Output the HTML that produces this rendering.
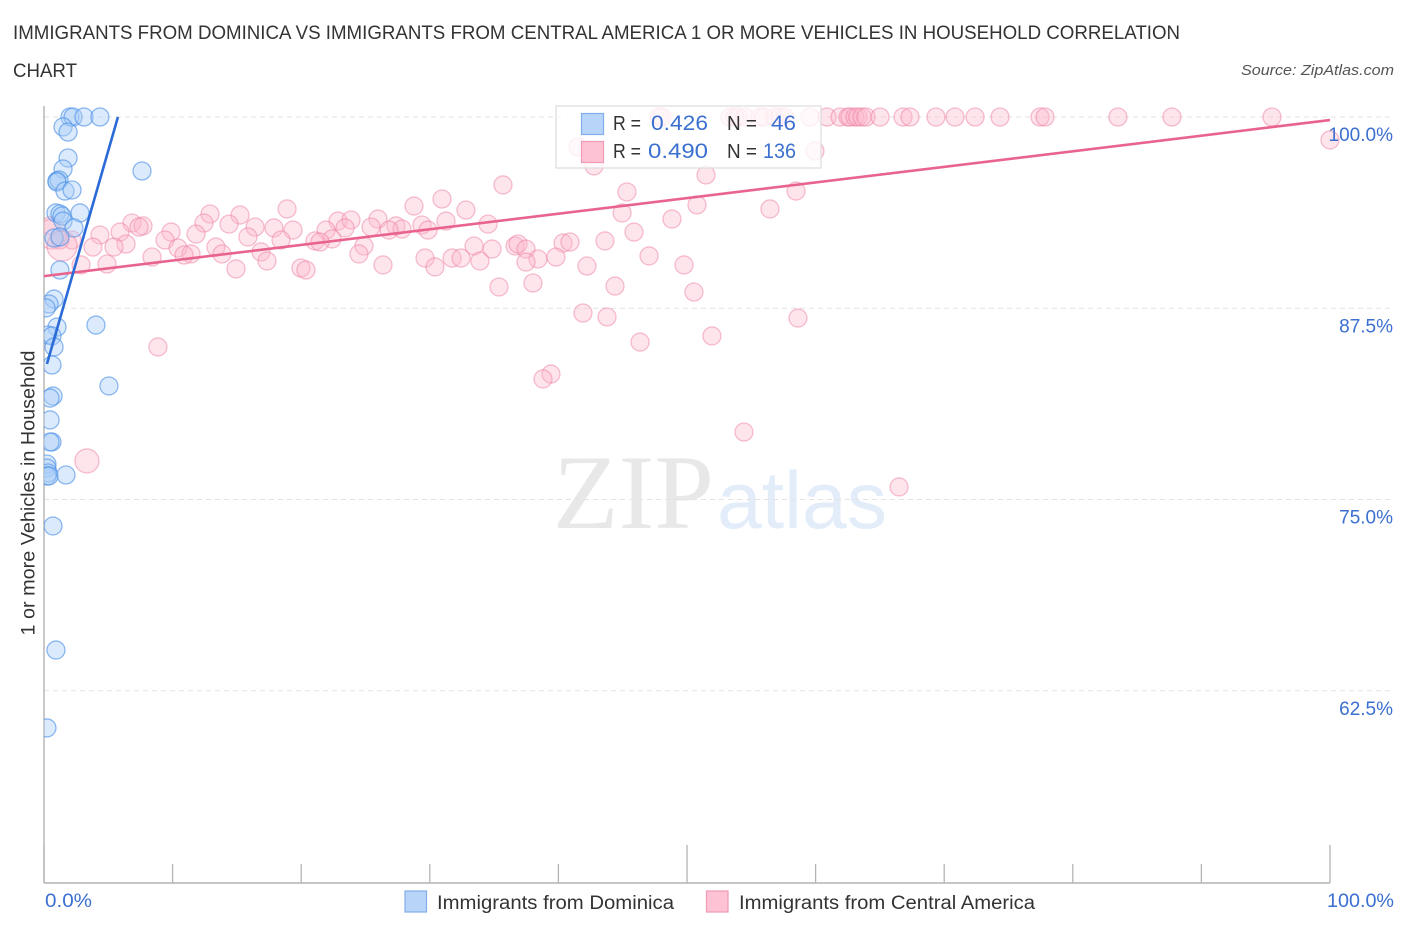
<!DOCTYPE html>
<html lang="en">
<head>
<meta charset="utf-8">
<title>Immigrants from Dominica vs Immigrants from Central America correlation chart</title>
<style>
html,body{margin:0;padding:0;background:#fff;}
svg{display:block;font-family:"Liberation Sans",sans-serif;}
</style>
</head>
<body>
<svg id="chart" width="1406" height="930" viewBox="0 0 1406 930" xmlns="http://www.w3.org/2000/svg">
  <defs><clipPath id="plot-clip"><rect x="44" y="100" width="1350" height="783"/></clipPath></defs>
  <text x="13" y="39" font-size="19" fill="#333" textLength="1167" lengthAdjust="spacingAndGlyphs">IMMIGRANTS FROM DOMINICA VS IMMIGRANTS FROM CENTRAL AMERICA 1 OR MORE VEHICLES IN HOUSEHOLD CORRELATION</text>
  <text x="13" y="77" font-size="19" fill="#333" textLength="64" lengthAdjust="spacingAndGlyphs">CHART</text>
  <text x="1394" y="75" font-size="15" font-style="italic" fill="#555" text-anchor="end" textLength="153" lengthAdjust="spacingAndGlyphs">Source: ZipAtlas.com</text>

  <g>
    <text x="553" y="528" font-family="'Liberation Serif',serif" font-size="106" fill="#e8e8e8" textLength="161" lengthAdjust="spacingAndGlyphs">ZIP</text>
    <text x="717" y="528" font-family="'Liberation Sans',sans-serif" font-size="81" fill="#e3edfa" textLength="170" lengthAdjust="spacingAndGlyphs">atlas</text>
  </g>

  <g id="grid"></g>
  <g id="axes"></g>
  <g id="central-points" clip-path="url(#plot-clip)"></g>
  <g id="dominica-points" clip-path="url(#plot-clip)"></g>
  <g id="trends"></g>
  <g id="ylabels"></g>

  <text transform="translate(34.500,493) rotate(-90)" font-size="19" fill="#333" text-anchor="middle" textLength="285" lengthAdjust="spacingAndGlyphs">1 or more Vehicles in Household</text>
  <text x="45" y="907" font-size="19" fill="#3b6fd0" textLength="47" lengthAdjust="spacingAndGlyphs">0.0%</text>
  <text x="1394" y="907" font-size="19" fill="#3b6fd0" text-anchor="end" textLength="67" lengthAdjust="spacingAndGlyphs">100.0%</text>

  <g>
    <rect x="556" y="106" width="265" height="62" fill="#fff" fill-opacity="0.78" stroke="#dcdcdc" stroke-width="1.2"/>
    <rect x="581.5" y="113.5" width="22" height="21" fill="#b9d4f9" stroke="#80aeea" stroke-width="1.2"/>
    <rect x="581.5" y="141.5" width="22" height="21" fill="#fdc3d4" stroke="#f09ab6" stroke-width="1.2"/>
    <text x="613" y="130" font-size="20" fill="#333" textLength="28" lengthAdjust="spacingAndGlyphs">R =</text>
    <text x="651" y="130" font-size="21" fill="#3b6fd0" textLength="57" lengthAdjust="spacingAndGlyphs">0.426</text>
    <text x="727" y="130" font-size="20" fill="#333" textLength="30" lengthAdjust="spacingAndGlyphs">N =</text>
    <text x="771" y="130" font-size="21" fill="#3b6fd0" textLength="25" lengthAdjust="spacingAndGlyphs">46</text>
    <text x="613" y="158" font-size="20" fill="#333" textLength="28" lengthAdjust="spacingAndGlyphs">R =</text>
    <text x="648" y="158" font-size="21" fill="#3b6fd0" textLength="60" lengthAdjust="spacingAndGlyphs">0.490</text>
    <text x="727" y="158" font-size="20" fill="#333" textLength="30" lengthAdjust="spacingAndGlyphs">N =</text>
    <text x="763" y="158" font-size="21" fill="#3b6fd0" textLength="33" lengthAdjust="spacingAndGlyphs">136</text>
  </g>

  <g>
    <g>
      <rect x="405" y="891" width="21.5" height="21" fill="#b9d4f9" stroke="#80aeea" stroke-width="1.2"/>
      <text x="437" y="909" font-size="19" fill="#333" textLength="237" lengthAdjust="spacingAndGlyphs">Immigrants from Dominica</text>
    </g>
    <g>
      <rect x="706.500" y="891" width="21.5" height="21" fill="#fdc3d4" stroke="#f09ab6" stroke-width="1.2"/>
      <text x="739" y="909" font-size="19" fill="#333" textLength="296" lengthAdjust="spacingAndGlyphs">Immigrants from Central America</text>
    </g>
  </g>
</svg>
<script>
const yTickValues = [100, 87.5, 75, 62.5];
const yTickLabels = ["100.0%", "87.5%", "75.0%", "62.5%"];
const xTickValues = [0, 10, 20, 30, 40, 50, 60, 70, 80, 90, 100];
const xMajorTicks = [0, 50, 100];

const dominicaX = [2.02,2.26,3.11,4.35,1.48,1.87,1.87,1.48,7.62,1.01,1.17,1.01,1.63,2.18,0.93,1.24,1.40,2.80,1.48,2.33,0.78,1.24,1.24,0.78,0.39,0.16,4.04,1.01,0.31,0.62,0.78,0.62,5.05,0.70,0.47,0.47,0.62,0.47,0.23,0.23,0.31,0.23,0.39,1.71,0.70,0.93,0.23];
const dominicaY = [100,100,100,100,99.35,99.02,97.32,96.6,96.47,95.82,95.88,95.75,95.16,95.23,93.73,93.66,93.53,93.73,93.2,92.75,92.09,92.16,90,88.1,87.78,87.52,86.4,86.27,85.75,85.69,84.97,83.79,82.42,81.76,81.63,80.2,78.76,78.76,77.32,77.06,76.73,76.54,76.54,76.6,73.27,65.16,60.07];

const centralX = [47.82,48.06,53.34,53.73,53.97,54.51,55.68,55.99,56.84,57.23,57.62,59.56,60.89,61.90,62.52,62.67,63.06,63.30,63.61,63.92,65.01,66.80,67.34,69.36,70.84,72.40,74.34,77.45,77.84,83.51,87.71,95.49,
100,41.52,59.95,42.77,35.69,51.48,45.33,58.48,30.95,28.77,18.9,32.81,56.45,12.91,15.24,44.95,50.78,48.83,6.84,7.7,7.39,12.44,14.39,22.86,23.87,25.97,31.26,34.53,29.39,27.37,27.84,29.86,25.43,16.41,17.88,19.36,21.93,23.41,26.83,9.88,11.82,5.91,4.35,45.88,15.86,18.43,22.4,21.07,21.46,9.41,6.38,5.44,3.81,2.18,1.24,13.37,10.42,16.87,13.84,24.88,33.44,34.84,36.63,36.86,40.36,40.9,43.62,11.43,10.89,8.4,24.49,37.48,29.63,31.73,32.43,33.9,38.41,39.81,47.05,4.9,2.88,14.93,17.34,19.98,20.37,26.36,30.4,42.22,49.77,37.48,35.38,38.02,44.4,50.54,41.91,43.78,58.63,51.94,46.35,8.86,39.42,38.8,54.43,66.49,0.5];
const centralY = [100,100,100,100,100,100,100,100,100,100,100,100,100,100,100,100,100,100,100,100,100,100,100,100,100,100,100,100,100,100,100,100,
98.5,98.04,97.78,96.8,95.56,96.21,95.1,95.16,94.64,94.18,93.99,93.92,93.99,93.66,93.59,93.73,94.25,93.33,93.07,92.88,92.81,93.07,93.0,93.2,93.27,93.33,93.2,93.0,92.94,92.88,92.68,92.61,92.81,92.81,92.75,92.61,92.61,92.75,92.61,92.48,92.35,92.48,92.29,92.48,92.16,91.96,92.03,91.9,91.83,91.96,91.7,91.5,91.5,91.96,91.96,91.5,91.44,91.18,91.05,91.57,91.57,91.37,91.57,91.7,91.76,91.83,91.9,91.05,90.98,90.85,91.05,91.37,90.78,90.78,90.78,90.59,90.72,90.85,90.92,90.39,90.33,90.07,90.59,90.13,90.0,90.33,90.2,90.26,90.33,90.52,88.89,89.15,88.95,88.56,87.19,86.93,86.86,85.69,85.29,84.97,83.2,82.88,79.41,75.82,92.9];

const centralLargeX = [3.34, 0.62, 1.4];
const centralLargeY = [77.52, 92.35, 91.57];

const dominicaTrendX = [0.23, 5.75];
const dominicaTrendY = [83.86, 100];
const centralTrendX = [0, 100];
const centralTrendY = [89.6, 99.8];

const NS = 'http://www.w3.org/2000/svg';
function xScale(v) { return 44 + v * 12.86; }
function yScale(v) { return 117 + (100 - v) * 15.3; }
function make(tag, attrs, parent) {
  const el = document.createElementNS(NS, tag);
  for (const k in attrs) el.setAttribute(k, attrs[k]);
  parent.appendChild(el);
  return el;
}

const grid = document.getElementById('grid');
const axes = document.getElementById('axes');
const ylabels = document.getElementById('ylabels');

yTickValues.forEach(function (v, i) {
  const line = make('line', {x1: 44, x2: 1394, y1: yScale(v), y2: yScale(v), stroke: '#e3e3e3', 'stroke-width': 1, 'stroke-dasharray': '5 4'}, grid);
  
  
  const t = make('text', {x: 1393, y: yScale(v) + 24, 'font-size': 19, fill: '#3b6fd0', 'text-anchor': 'end'}, ylabels);
  t.textContent = yTickLabels[i];
  
  
});

const yAxis = make('line', {x1: 44, x2: 44, y1: 106, y2: 883, stroke: '#b4b4b4', 'stroke-width': 1.4}, axes);


const xAxis = make('line', {x1: 44, x2: 1330, y1: 883, y2: 883, stroke: '#b4b4b4', 'stroke-width': 1.4}, axes);


xTickValues.forEach(function (v) {
  const major = xMajorTicks.indexOf(v) >= 0;
  const tick = make('line', {x1: xScale(v), x2: xScale(v), y1: major ? 845 : 864, y2: 883, stroke: '#b4b4b4', 'stroke-width': 1.3}, axes);
  
  
});

const centralGroup = document.getElementById('central-points');
const dominicaGroup = document.getElementById('dominica-points');
const pinkStyle = {fill: '#fdb6cb', 'fill-opacity': 0.36, stroke: '#ee7fa3', 'stroke-opacity': 0.5, 'stroke-width': 1.3};
const blueStyle = {fill: '#a9ccf7', 'fill-opacity': 0.42, stroke: '#4a8fe6', 'stroke-opacity': 0.62, 'stroke-width': 1.3};

centralX.forEach(function (v, i) {
  const c = make('circle', Object.assign({cx: xScale(v), cy: yScale(centralY[i]), r: 9}, pinkStyle), centralGroup);
  
  
});
centralLargeX.forEach(function (v, i) {
  const c = make('circle', Object.assign({cx: xScale(v), cy: yScale(centralLargeY[i]), r: i === 0 ? 12 : 15}, pinkStyle), centralGroup);
  
  
});
dominicaX.forEach(function (v, i) {
  const c = make('circle', Object.assign({cx: xScale(v), cy: yScale(dominicaY[i]), r: 9}, blueStyle), dominicaGroup);
  
  
});

const trends = document.getElementById('trends');
const centralTrend = make('line', {x1: xScale(centralTrendX[0]), y1: yScale(centralTrendY[0]), x2: xScale(centralTrendX[1]), y2: yScale(centralTrendY[1]), stroke: '#e8648f', 'stroke-width': 2.6}, trends);


const dominicaTrend = make('line', {x1: xScale(dominicaTrendX[0]), y1: yScale(dominicaTrendY[0]), x2: xScale(dominicaTrendX[1]), y2: yScale(dominicaTrendY[1]), stroke: '#2a6bd8', 'stroke-width': 2.6}, trends);


</script>
</body>
</html>
